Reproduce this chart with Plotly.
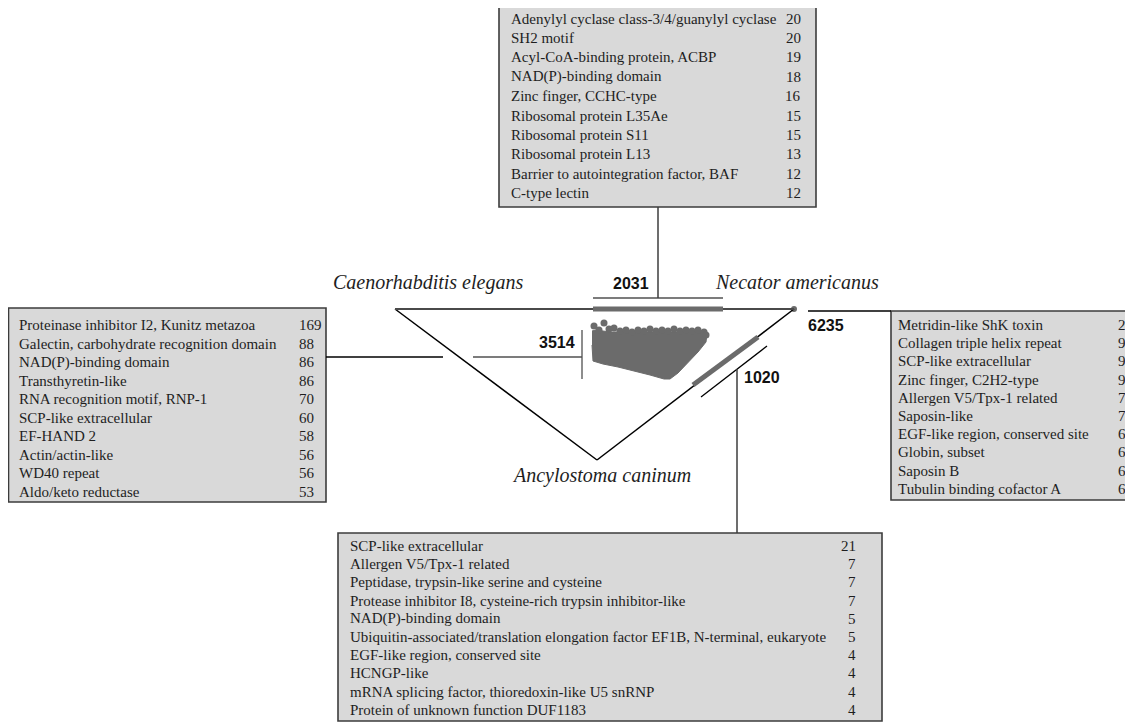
import plotly.graph_objects as go

# ---------------- data ----------------
species = ["Caenorhabditis elegans", "Necator americanus", "Ancylostoma caninum"]

count_ce_na = 2031     # on the C. elegans - N. americanus edge
count_core = 3514      # inside the triangle (scatter cloud)
count_na = 6235        # N. americanus vertex
count_na_ac = 1020     # N. americanus - A. caninum edge

top_domains = [
    "Adenylyl cyclase class-3/4/guanylyl cyclase",
    "SH2 motif",
    "Acyl-CoA-binding protein, ACBP",
    "NAD(P)-binding domain",
    "Zinc finger, CCHC-type",
    "Ribosomal protein L35Ae",
    "Ribosomal protein S11",
    "Ribosomal protein L13",
    "Barrier to autointegration factor, BAF",
    "C-type lectin",
]
top_counts = [20, 20, 19, 18, 16, 15, 15, 13, 12, 12]

left_domains = [
    "Proteinase inhibitor I2, Kunitz metazoa",
    "Galectin, carbohydrate recognition domain",
    "NAD(P)-binding domain",
    "Transthyretin-like",
    "RNA recognition motif, RNP-1",
    "SCP-like extracellular",
    "EF-HAND 2",
    "Actin/actin-like",
    "WD40 repeat",
    "Aldo/keto reductase",
]
left_counts = [169, 88, 86, 86, 70, 60, 58, 56, 56, 53]

right_domains = [
    "Metridin-like ShK toxin",
    "Collagen triple helix repeat",
    "SCP-like extracellular",
    "Zinc finger, C2H2-type",
    "Allergen V5/Tpx-1 related",
    "Saposin-like",
    "EGF-like region, conserved site",
    "Globin, subset",
    "Saposin B",
    "Tubulin binding cofactor A",
]
right_counts = [23, 9, 9, 9, 7, 7, 6, 6, 6, 6]

bottom_domains = [
    "SCP-like extracellular",
    "Allergen V5/Tpx-1 related",
    "Peptidase, trypsin-like serine and cysteine",
    "Protease inhibitor I8, cysteine-rich trypsin inhibitor-like",
    "NAD(P)-binding domain",
    "Ubiquitin-associated/translation elongation factor EF1B, N-terminal, eukaryote",
    "EGF-like region, conserved site",
    "HCNGP-like",
    "mRNA splicing factor, thioredoxin-like U5 snRNP",
    "Protein of unknown function DUF1183",
]
bottom_counts = [21, 7, 7, 7, 5, 5, 4, 4, 4, 4]

# outline of the dense point cloud
cloud_x = [592, 596, 603, 610, 618, 628, 638, 648, 658, 668, 678, 688, 698, 704, 707, 706, 698, 688, 678, 670, 664, 650, 635, 618, 603, 593, 592]
cloud_y = [331, 330, 331, 332, 332, 332, 332, 332, 332, 332, 332, 332, 332, 332, 334, 342, 352, 363, 373, 379, 379, 375, 371, 367, 364, 361, 345]
# scattered points along the cloud's ragged upper edge
cloud_top_x = [594, 599, 604, 609, 614, 620, 626, 632, 638, 644, 650, 656, 662, 668, 674, 680, 686, 692, 698, 704, 706]
cloud_top_y = [326, 330, 323, 329, 328, 331, 330, 332, 330, 331, 329, 331, 330, 331, 329, 331, 330, 331, 330, 332, 335]

# ---------------- layout geometry ----------------
W, H = 1133, 722
OFF = 8   # default page margin around the figure
CE = (395, 309)
NA = (794, 309)
AC = (597, 460)

DARK = "#3c3c3c"
GREY = "#6b6b6b"
SERIF = "Liberation Serif"
SANS = "Liberation Sans"

fig = go.Figure()

shapes = []


def line(p0, p1, color="black", width=1.5):
    shapes.append(dict(type="line", xref="x", yref="y", x0=p0[0], y0=p0[1],
                       x1=p1[0], y1=p1[1], line=dict(color=color, width=width),
                       layer="above"))


annotations = []


def label(x, y, text, size=15, family=SERIF, anchor="left", color="#1e1e1e", bold=False, italic=False):
    t = text
    if bold:
        t = "<b>" + t + "</b>"
    if italic:
        t = "<i>" + t + "</i>"
    annotations.append(dict(x=x, y=y, xref="x", yref="y", text=t, showarrow=False,
                            xanchor=anchor, yanchor="middle",
                            font=dict(family=family, size=size, color=color)))


def table_box(names, counts, x0, x1, y0, y1, tx, nx, nanchor, ry0, rdy):
    shapes.append(dict(type="rect", xref="x", yref="y", x0=x0, x1=x1, y0=y0, y1=y1,
                       fillcolor="#d9d9d9", line=dict(color=DARK, width=1.6), layer="below"))
    for i, (n, c) in enumerate(zip(names, counts)):
        y = ry0 + i * rdy
        label(tx, y, n)
        label(nx, y, str(c), anchor=nanchor)


table_box(top_domains, top_counts, 499, 816, 7, 207, 509, 803, "right", 18.5, 19.4)
table_box(left_domains, left_counts, 8.5, 326, 308, 502, 17, 297, "left", 325, 18.5)
table_box(right_domains, right_counts, 891, 1145, 311, 500, 896, 1116, "left", 325, 18.2)
table_box(bottom_domains, bottom_counts, 338, 882, 533, 721, 348, 858, "right", 546, 18.2)

# triangle
line(CE, AC, "black", 1.5)
line(NA, AC, "black", 1.5)
line(CE, NA, "#4a4a4a", 2)

# 2031 : top edge
line((593, 309), (723, 309), GREY, 5)
line((593, 298), (723, 298), "#505050", 1.3)
line((658, 298), (658, 207), DARK, 1.5)

# 3514 : inner cloud
line((582, 330), (582, 379), "#505050", 1.3)
line((473, 357), (582, 357), "#505050", 1.3)
line((326, 357), (443, 357), "black", 1.6)

# 1020 : right edge
line((693, 385), (758, 337), GREY, 5)
line((701, 397), (767, 346), "black", 1.3)
line((737, 369), (737, 533), DARK, 1.5)

# 6235 : N. americanus vertex
line((808, 311), (891, 311), "black", 1.6)

fig.add_trace(go.Scatter(x=cloud_x, y=cloud_y, mode="lines", fill="toself",
                         fillcolor=GREY, line=dict(color=GREY, width=1),
                         hoverinfo="skip", showlegend=False))
fig.add_trace(go.Scatter(x=cloud_top_x, y=cloud_top_y, mode="markers",
                         marker=dict(color=GREY, size=7), hoverinfo="skip", showlegend=False))
fig.add_trace(go.Scatter(x=[NA[0]], y=[NA[1]], mode="markers",
                         marker=dict(color=GREY, size=6), hoverinfo="skip", showlegend=False))

# count labels
label(631, 283, str(count_ce_na), size=16, family=SANS, anchor="center", bold=True, color="#111")
label(557, 342, str(count_core), size=16, family=SANS, anchor="center", bold=True, color="#111")
label(826, 325, str(count_na), size=16, family=SANS, anchor="center", bold=True, color="#111")
label(762, 377, str(count_na_ac), size=16, family=SANS, anchor="center", bold=True, color="#111")

# species labels
label(428, 282, species[0], size=20, anchor="center", italic=True)
label(713, 282, species[1], size=20, anchor="left", italic=True)
label(601, 475, species[2], size=20, anchor="center", italic=True)

fig.update_layout(
    width=W - OFF, height=H - OFF, margin=dict(l=0, r=0, t=0, b=0),
    paper_bgcolor="white", plot_bgcolor="white",
    xaxis=dict(range=[OFF, W], visible=False, fixedrange=True),
    yaxis=dict(range=[H, OFF], visible=False, fixedrange=True),
    shapes=shapes, annotations=annotations, showlegend=False,
)

fig.write_html("out.html")
